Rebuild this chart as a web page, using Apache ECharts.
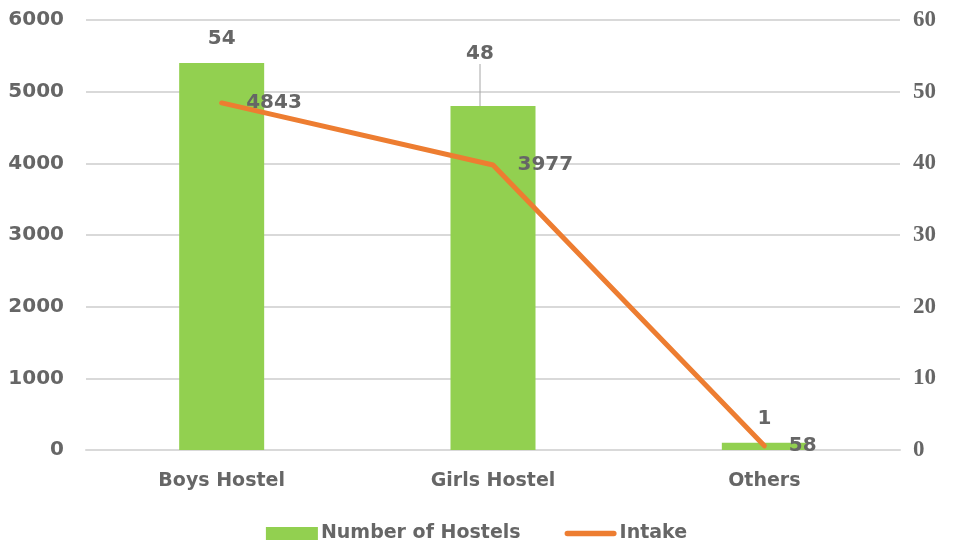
<!DOCTYPE html>
<html>
<head>
<meta charset="utf-8">
<script src="https://cdn.jsdelivr.net/npm/echarts@6/dist/echarts.min.js"></script>
<style>
  html, body { margin: 0; padding: 0; background: #fff; }
  #chart { width: 953px; height: 548px; }
</style>
</head>
<body>
<div id="chart"></div>
<script>
  var categories = ['Boys Hostel', 'Girls Hostel', 'Others'];
  var hostels = [54, 48, 1];
  var intake = [4843, 3977, 58];

  var textColor = '#666666';
  var sans = '"DejaVu Sans", sans-serif';

  var chart = echarts.init(document.getElementById('chart'));

  // only the Girls Hostel label is pulled up with a leader line
  var hostelData = hostels.map(function (v, i) {
    return { value: v, labelLine: { show: i === 1 } };
  });

  var option = {
    animation: false,
    grid: { left: 86, right: 53, top: 20, bottom: 98, outerBoundsMode: 'none' },
    legend: {
      bottom: 0,
      itemGap: 44,
      itemWidth: 52,
      itemHeight: 13,
      textStyle: { color: textColor, fontFamily: sans, fontWeight: 'bold', fontSize: 19, padding: [0, 0, 0, -2] },
      data: [
        { name: 'Number of Hostels', icon: 'rect' },
        { name: 'Intake', icon: 'path://M3,0 L53,0 A3,3 0 0 1 53,6 L3,6 A3,3 0 0 1 3,0 Z' }
      ]
    },
    xAxis: {
      type: 'category',
      data: categories,
      axisLine: { lineStyle: { color: '#d9d9d9', width: 2 } },
      axisTick: { show: false },
      axisLabel: { color: textColor, fontFamily: sans, fontWeight: 'bold', fontSize: 19, margin: 22 }
    },
    yAxis: [
      {
        type: 'value',
        min: 0, max: 6000, interval: 1000,
        axisLabel: { color: textColor, fontFamily: sans, fontWeight: 'bold', fontSize: 20, margin: 22, formatter: function (v) { return String(v); } },
        splitLine: { lineStyle: { color: '#d9d9d9', width: 2 } }
      },
      {
        type: 'value',
        min: 0, max: 60, interval: 10,
        axisLabel: { color: textColor, fontFamily: '"Liberation Serif", serif', fontWeight: 'bold', fontSize: 23, margin: 13 },
        splitLine: { show: false }
      }
    ],
    series: [
      {
        name: 'Number of Hostels',
        type: 'bar',
        yAxisIndex: 1,
        barWidth: 85,
        itemStyle: { color: '#92D050' },
        label: {
          show: true,
          position: 'top',
          distance: 14,
          color: textColor,
          fontFamily: sans,
          fontWeight: 'bold',
          fontSize: 20
        },
        labelLine: { lineStyle: { color: '#a6a6a6', width: 1 } },
        labelLayout: function (params) {
          if (params.dataIndex === 1) {
            return { dx: -13, dy: -28 };
          }
          return {};
        },
        data: hostelData
      },
      {
        name: 'Intake',
        type: 'line',
        yAxisIndex: 0,
        symbol: 'circle',
        symbolSize: 1,
        z: 3,
        lineStyle: { color: '#ED7D31', width: 5, cap: 'round' },
        itemStyle: { color: '#ED7D31' },
        label: {
          show: true,
          position: 'right',
          distance: 24,
          color: textColor,
          fontFamily: sans,
          fontWeight: 'bold',
          fontSize: 20
        },
        data: intake
      }
    ]
  };

  chart.setOption(option);
</script>
</body>
</html>
